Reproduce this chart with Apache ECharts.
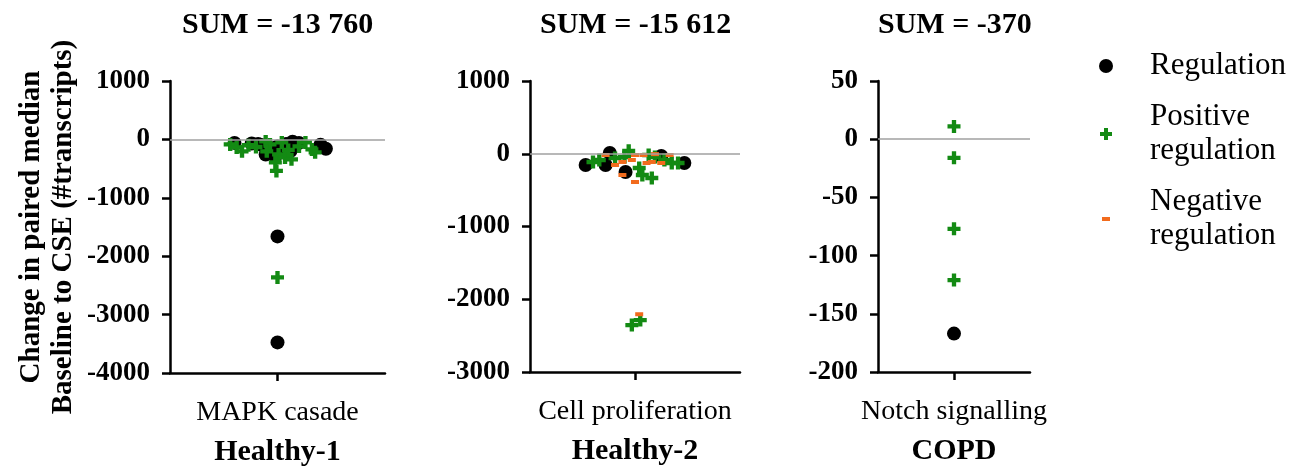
<!DOCTYPE html>
<html>
<head>
<meta charset="utf-8">
<script src="https://cdn.jsdelivr.net/npm/echarts@6/dist/echarts.min.js"></script>
<style>
  html, body { margin: 0; padding: 0; background: #fff; }
  #main { width: 1294px; height: 468px; }
</style>
</head>
<body>
<div id="main"></div>
<script>
// panel labels
var processes = ['MAPK casade', 'Cell proliferation', 'Notch signalling'];
var groups = ['Healthy-1', 'Healthy-2', 'COPD'];
var sums = ['SUM = -13 760', 'SUM = -15 612', 'SUM = -370'];

// points are [swarm offset, change in transcripts]
var h1Regulation = [[-40, -60], [-24, -70], [-18, -80], [-11, -260], [-2, -290], [6, -130], [8, -80],
    [14, -40], [0, -120], [-6, -150], [40, -90], [45, -160], [20, -60], [12, -200], [-14, -100],
    [2, -170], [0, -1661], [0, -3476]];
var h1Positive = [[-44, -86], [-38, -137], [-33, -205], [-11, -34], [-7, -86], [4, -51], [-10, -205],
    [1, -257], [7, -308], [13, -342], [-2, -394], [-1, -540], [20, -120], [26, -51], [32, -171],
    [35, -222], [-27, -100], [-20, -130], [10, -180], [0, -2363]];

var h2Regulation = [[-47, -155], [-24, 10], [-28, -155], [-9, -250], [25, -30], [47, -127]];
var h2Positive = [[-40, -113], [-34, -86], [-19, -58], [-6, 40], [-10, -45], [4, -196], [7, -292],
    [16, -333], [13, -17], [19, -45], [28, -86], [35, -127], [41, -127], [-3, -2355], [5, -2286]];
var h2Negative = [[-28, -17], [-19, -155], [-12, -113], [0, -17], [8, -17], [-3, -86], [11, -127],
    [16, -113], [19, -5], [33, -17], [0, -388], [-12, -292], [25, -127], [4, -2206]];

var copdRegulation = [[0, -167]];
var copdPositive = [[0, 11], [0, -16], [0, -77], [0, -121]];

var yRanges = [[-4000, 1000, 1000], [-3000, 1000, 1000], [-200, 50, 50]];

var plusPath = 'path://M4,0h4v4h4v4h-4v4h-4v-4h-4v-4h4z';
var plusLegend = 'path://M-1,-1M13,13M4,0h4v4h4v4h-4v4h-4v-4h-4v-4h4z';
var dashPath = 'path://M0,0M14,14M3,5h8v4h-8z';
var font = 'Liberation Serif';

var chart = echarts.init(document.getElementById('main'));

var grids = [
    { left: 170, top: 81, width: 215, height: 292, outerBoundsMode: 'none' },
    { left: 530, top: 81, width: 210, height: 291, outerBoundsMode: 'none' },
    { left: 878, top: 81, width: 152, height: 291, outerBoundsMode: 'none' }
];

var xAxes = grids.map(function (g, i) {
    return {
        gridIndex: i,
        type: 'value',
        min: -100,
        max: 100,
        name: groups[i],
        nameLocation: 'middle',
        nameGap: 64,
        nameTextStyle: { fontFamily: font, fontSize: 30, fontWeight: 'bold', color: '#000' },
        axisLine: { show: true, onZero: false, lineStyle: { color: '#000', width: 2.5 } },
        axisTick: { show: true, customValues: [0], length: 8, lineStyle: { color: '#000', width: 2.5 } },
        axisLabel: {
            customValues: [0], margin: 26,
            fontFamily: font, fontSize: 28, color: '#000',
            formatter: function () { return processes[i]; }
        },
        splitLine: { show: false }
    };
});

var yAxes = grids.map(function (g, i) {
    var ax = {
        gridIndex: i,
        type: 'value',
        min: yRanges[i][0],
        max: yRanges[i][1],
        interval: yRanges[i][2],
        axisLine: { show: true, onZero: false, lineStyle: { color: '#000', width: 2.5 } },
        axisTick: { show: true, length: 8, lineStyle: { color: '#000', width: 2.5 } },
        axisLabel: {
            margin: 20, fontFamily: font, fontSize: 27, fontWeight: 'bold', color: '#000',
            formatter: function (v) { return String(v); }
        },
        splitLine: { show: false }
    };
    if (i === 0) {
        ax.name = 'Change in paired median\nBaseline to CSE (#transcripts)';
        ax.nameLocation = 'middle';
        ax.nameGap = 90;
        ax.nameTextStyle = { fontFamily: font, fontSize: 29, fontWeight: 'bold', color: '#000', lineHeight: 32 };
    }
    return ax;
});

function scatter(name, data, idx, symbol, size, color, withZero) {
    var s = {
        name: name,
        type: 'scatter',
        xAxisIndex: idx,
        yAxisIndex: idx,
        data: data,
        symbol: symbol,
        symbolSize: size,
        itemStyle: { color: color, opacity: 1 }
    };
    if (withZero) {
        s.markLine = {
            silent: true,
            symbol: 'none',
            label: { show: false },
            lineStyle: { color: '#a0a0a0', width: 1.5, type: 'solid' },
            data: [{ yAxis: 0 }]
        };
    }
    return s;
}

var black = '#000000', green = '#138a13', orange = '#f26b1d';

var option = {
    animation: false,
    title: sums.map(function (s, i) {
        return {
            text: s,
            left: [182, 540, 878][i],
            top: 10,
            padding: 0,
            textStyle: { fontFamily: font, fontSize: 30, fontWeight: 'bold', color: '#000' }
        };
    }),
    legend: {
        orient: 'vertical',
        left: 1094,
        top: 44,
        itemWidth: 14,
        itemHeight: 14,
        itemGap: 17,
        textStyle: { fontFamily: font, fontSize: 31, color: '#000', lineHeight: 34, padding: [0, 0, 0, 32] },
        formatter: function (n) { return n.replace(' ', '\n'); },
        data: [
            { name: 'Regulation', icon: 'circle' },
            { name: 'Positive regulation', icon: plusLegend },
            { name: 'Negative regulation', icon: dashPath }
        ]
    },
    grid: grids,
    xAxis: xAxes,
    yAxis: yAxes,
    series: [
        scatter('Regulation', h1Regulation, 0, 'circle', 14, black, true),
        scatter('Positive regulation', h1Positive, 0, plusPath, 13, green),
        scatter('Regulation', h2Regulation, 1, 'circle', 14, black, true),
        scatter('Positive regulation', h2Positive, 1, plusPath, 13, green),
        scatter('Negative regulation', h2Negative, 1, dashPath, 14, orange),
        scatter('Regulation', copdRegulation, 2, 'circle', 14, black, true),
        scatter('Positive regulation', copdPositive, 2, plusPath, 13, green),
        scatter('Negative regulation', [], 2, dashPath, 14, orange)
    ]
};

chart.setOption(option);
window.addEventListener('resize', function () {
    chart.resize();
});
</script>
</body>
</html>
